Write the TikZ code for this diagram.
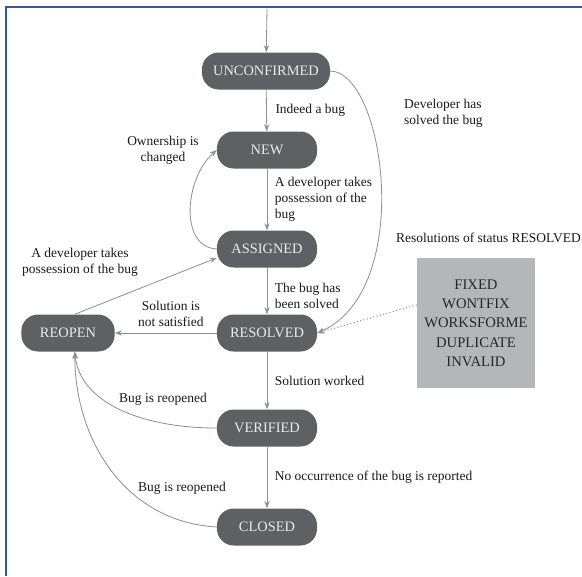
\documentclass[tikz,border=0pt]{standalone}
\usepackage{fontspec}
\setmainfont{Liberation Serif}
\usetikzlibrary{arrows.meta, positioning}
\definecolor{statefill}{HTML}{5E6063}
\definecolor{linegray}{HTML}{8E8F92}
\definecolor{resfill}{HTML}{B5B6BA}
\definecolor{frameblue}{HTML}{2F5C99}

\begin{document}
\begin{tikzpicture}[
    x=0.03cm, y=-0.03cm,
    state/.style={
        rectangle,
        rounded corners=0.5cm,
        fill=statefill,
        text=white!92!black,
        minimum height=1.11cm,
        minimum width=3cm,
        font=\fontsize{12.3}{14}\selectfont
    },
    resbox/.style={
        rectangle,
        fill=resfill,
        text=black!85,
        align=center,
        minimum width=3.54cm,
        minimum height=3.9cm,
        font=\fontsize{12.5}{16.5}\selectfont
    },
    txt/.style={
        text=black!90,
        font=\fontsize{11.5}{13.5}\selectfont
    },
    arrow/.style={
        -{Stealth[length=6pt, width=4.5pt]},
        draw=linegray,
        line width=0.7pt
    }
]

    % --- canvas and frame ---
    \useasboundingbox (0,0) rectangle (582,576);
    \draw[frameblue, line width=1.7pt] (582,7) -- (6,7) -- (6,576);

    % --- states ---
    \node[state, minimum width=3.84cm] (unconfirmed) at (266,71) {UNCONFIRMED};
    \node[state] (new) at (267,150) {NEW};
    \node[state] (assigned) at (267,249) {ASSIGNED};
    \node[state] (resolved) at (267,333) {RESOLVED};
    \node[state, minimum width=2.8cm] (reopen) at (68,333) {REOPEN};
    \node[state] (verified) at (267,428) {VERIFIED};
    \node[state] (closed) at (267,527) {CLOSED};

    % --- resolutions ---
    \node[txt, anchor=east] (restitle) at (585,238) {Resolutions of status RESOLVED};
    \node[resbox] (resolutions) at (476,323) {FIXED\\WONTFIX\\WORKSFORME\\DUPLICATE\\INVALID};

    % --- main line ---
    \coordinate (entry) at (267,9);
    \draw[arrow] (entry) -- (unconfirmed);
    \draw[arrow] (unconfirmed) -- node[txt, right=4pt] {Indeed a bug} (new);
    \draw[arrow] (new) -- node[txt, right=3pt, align=left] {A developer takes\\possession of the\\bug} (assigned);
    \draw[arrow] (assigned) -- node[txt, right=3pt, align=left, pos=0.6] {The bug has\\been solved} (resolved);
    \draw[arrow] (resolved) -- node[txt, right=3pt] {Solution worked} (verified);
    \draw[arrow] (verified) -- node[txt, right=3pt] {No occurrence of the bug is reported} (closed);

    % --- side transitions ---
    \draw[arrow] (assigned.west) .. controls +(-38,-2) and +(-32,28) .. (new.west);
    \node[txt, align=center] (ownlbl) at (163,150) {Ownership is\\changed};

    \draw[arrow] (unconfirmed.east) .. controls (385,72) and (415,290) .. (resolved.east);
    \node[txt, align=left, anchor=west] (devlbl) at (400,113) {Developer has\\solved the bug};

    \draw[arrow] (resolved) -- node[txt, above=2pt, pos=0.45, align=center] {Solution is\\not satisfied} (reopen);
    \draw[arrow] (reopen.70) -- (assigned.190);
    \node[txt, align=center] (takelbl) at (80,262) {A developer takes\\possession of the bug};

    \draw[arrow] (verified.west) .. controls +(-77,0) and +(5,50) .. (reopen.-70);
    \node[txt] (reop1) at (163,399) {Bug is reopened};
    \draw[arrow] (closed.west) .. controls +(-90,-5) and +(0,90) .. (reopen.-70);
    \node[txt] (reop2) at (182,488) {Bug is reopened};

    \draw[arrow, line width=0.9pt, dotted] (resolutions.163) -- (resolved.east);

\end{tikzpicture}
\end{document}
